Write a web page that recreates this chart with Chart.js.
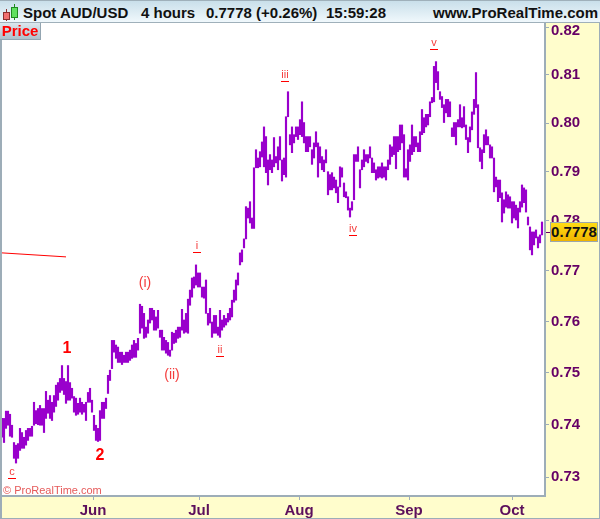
<!DOCTYPE html>
<html>
<head>
<meta charset="utf-8">
<title>Spot AUD/USD</title>
<script src="https://cdn.jsdelivr.net/npm/chart.js@4/dist/chart.umd.min.js"></script>
<style>
  html, body { margin: 0; padding: 0; background: #fff; }
  #wrap { position: relative; width: 600px; height: 519px; overflow: hidden; font-family: "Liberation Sans", Arial, sans-serif; }
  canvas { position: absolute; left: 0; top: 0; }
  #head { position: absolute; left: 0; top: 0; width: 600px; height: 21px; border-top: 1px solid #9fb0ba; border-bottom: 1px solid #9fb0ba;
    background: linear-gradient(#c9dfea, #f0f8fc); }
  #head span { position: absolute; top: 3px; font-weight: bold; font-size: 15px; line-height: 17px; color: #111; white-space: nowrap; }
  .candle { position: absolute; border: 1px solid; }
  .wick { position: absolute; width: 1px; }
  #price { position: absolute; left: 0; top: 23px; width: 40px; height: 16px; background: linear-gradient(#dbe7ee, #aebfca); border-right: 1px solid #93a5b1; border-bottom: 1px solid #93a5b1;
    color: #f00; font-weight: bold; font-size: 15px; line-height: 16px; text-align: center; }
  #copy { position: absolute; left: 3px; top: 483px; font-size: 11px; line-height: 14px; color: #e65a5a; white-space: nowrap; }
  #last { position: absolute; left: 550px; top: 222px; width: 46px; height: 18px; border: 1px solid #9aa6ae; background: linear-gradient(#ffdc14, #efb400);
    font-weight: bold; font-size: 15px; line-height: 18px; text-align: center; color: #111; }
  #lastTick { position: absolute; left: 546px; top: 232px; width: 4px; height: 1px; background: #660066; }
</style>
</head>
<body>
<div id="wrap">
  <canvas id="chart" width="600" height="519"></canvas>
  <div id="head">
    <div class="wick" style="left:6px;top:8px;height:12px;background:#8a3030"></div>
    <div class="candle" style="left:3px;top:11px;width:5px;height:6px;background:#f07070;border-color:#8a3030"></div>
    <div class="wick" style="left:14px;top:3px;height:16px;background:#1f8a1f"></div>
    <div class="candle" style="left:11px;top:6px;width:5px;height:9px;background:#60e060;border-color:#1f8a1f"></div>
    <span style="left:23px">Spot AUD/USD</span>
    <span style="left:141px">4 hours</span>
    <span style="left:206px">0.7778 (+0.26%)</span>
    <span style="left:326px">15:59:28</span>
    <span style="left:433px">www.ProRealTime.com</span>
  </div>
  <div id="price">Price</div>
  <div id="copy">© ProRealTime.com</div>
  <div id="lastTick"></div>
  <div id="last">0.7778</div>
</div>
<script>
const highs = [
  .7412,.7412,.7426,.7426,.7420,.7399,.7366,.7361,.7364,.7393,.7385,.7376,.7389,.7393,.7393,.7397,
  .7443,.7427,.7431,.7437,.7431,.7431,.7464,.7447,.7456,.7443,.7456,.7476,.7481,.7489,.7514,.7489,
  .7483,.7514,.7481,.7470,.7454,.7451,.7441,.7451,.7443,.7439,.7443,.7462,.7470,.7447,.7418,.7399,
  .7393,.7427,.7443,.7443,.7451,.7495,.7505,.7563,.7563,.7554,.7550,.7540,.7540,.7534,.7540,.7540,
  .7544,.7554,.7563,.7557,.7567,.7634,.7630,.7616,.7589,.7603,.7626,.7626,.7622,.7609,.7622,.7583,
  .7583,.7569,.7563,.7559,.7544,.7579,.7577,.7583,.7589,.7589,.7624,.7603,.7616,.7644,.7662,.7686,
  .7688,.7712,.7696,.7696,.7668,.7668,.7682,.7616,.7626,.7599,.7612,.7612,.7589,.7622,.7603,.7612,
  .7606,.7616,.7626,.7642,.7662,.7682,.7696,.7736,.7742,.7764,.7829,.7826,.7839,.7806,.7908,.7945,
  .7928,.7941,.7961,.7992,.7972,.7924,.7935,.7924,.7970,.7931,.7951,.7972,.7924,.7928,.8013,.8065,
  .7976,.7992,.7976,.7992,.7992,.8007,.8044,.8001,.7972,.7972,.7972,.7945,.7959,.7982,.7959,.7951,
  .7931,.7924,.7945,.7900,.7894,.7898,.7889,.7883,.7869,.7910,.7908,.7877,.7859,.7849,.7826,.7839,
  .7935,.7935,.7951,.7904,.7924,.7945,.7935,.7935,.7951,.7928,.7918,.7904,.7910,.7910,.7918,.7910,
  .7910,.7924,.7955,.7951,.7972,.7972,.7972,.7996,.7996,.7976,.7906,.7945,.7955,.7996,.7972,.7972,
  .7959,.7982,.8028,.8011,.8018,.8018,.8044,.8053,.8118,.8128,.8107,.8065,.8055,.8038,.8049,.8049,
  .8044,.7990,.8001,.8001,.8007,.8038,.8011,.8034,.7996,.7970,.7992,.8023,.8049,.8105,.8038,.7949,
  .7945,.7976,.7986,.7972,.7955,.7951,.7928,.7889,.7883,.7883,.7857,.7843,.7859,.7853,.7849,.7839,
  .7839,.7832,.7826,.7839,.7873,.7867,.7863,.7808,.7788,.7778,.7778,.7782,.7768,.7772,.7798
];
const lows = [
  .7376,.7366,.7393,.7399,.7378,.7376,.7336,.7327,.7336,.7351,.7355,.7355,.7361,.7370,.7378,.7378,
  .7399,.7402,.7400,.7399,.7399,.7385,.7412,.7422,.7412,.7408,.7424,.7435,.7447,.7462,.7466,.7458,
  .7441,.7447,.7447,.7451,.7424,.7418,.7420,.7424,.7420,.7424,.7408,.7443,.7443,.7424,.7389,.7370,
  .7368,.7370,.7412,.7412,.7431,.7460,.7485,.7508,.7540,.7528,.7520,.7520,.7516,.7520,.7520,.7520,
  .7524,.7528,.7530,.7530,.7544,.7577,.7587,.7567,.7569,.7577,.7597,.7603,.7583,.7583,.7587,.7569,
  .7544,.7544,.7538,.7534,.7532,.7544,.7557,.7559,.7567,.7569,.7583,.7577,.7579,.7577,.7632,.7648,
  .7666,.7672,.7668,.7668,.7648,.7646,.7616,.7593,.7597,.7569,.7577,.7577,.7573,.7569,.7583,.7589,
  .7593,.7599,.7603,.7609,.7638,.7642,.7672,.7712,.7718,.7746,.7764,.7806,.7796,.7785,.7785,.7908,
  .7908,.7910,.7930,.7910,.7898,.7873,.7904,.7898,.7910,.7918,.7904,.7924,.7881,.7894,.7889,.8013,
  .7955,.7939,.7959,.7972,.7966,.7976,.7972,.7959,.7941,.7941,.7951,.7915,.7928,.7951,.7889,.7918,
  .7904,.7900,.7918,.7853,.7863,.7863,.7867,.7857,.7837,.7869,.7889,.7849,.7847,.7822,.7808,.7822,
  .7843,.7921,.7921,.7867,.7904,.7910,.7921,.7918,.7928,.7898,.7898,.7883,.7887,.7889,.7887,.7889,
  .7883,.7904,.7915,.7931,.7935,.7906,.7941,.7945,.7959,.7889,.7889,.7883,.7921,.7935,.7941,.7951,
  .7941,.7941,.7976,.7980,.7992,.7996,.8013,.8042,.8044,.8084,.8069,.8049,.8032,.8001,.8021,.8013,
  .8013,.7972,.7972,.7955,.7992,.7992,.7990,.7992,.7966,.7939,.7961,.7986,.8018,.8032,.7949,.7921,
  .7906,.7939,.7955,.7955,.7928,.7928,.7859,.7869,.7839,.7847,.7798,.7816,.7828,.7826,.7826,.7796,
  .7806,.7802,.7786,.7818,.7828,.7837,.7818,.7792,.7742,.7732,.7752,.7766,.7746,.7756,.7772
];
const priceTicks = [0.82, 0.81, 0.80, 0.79, 0.78, 0.77, 0.76, 0.75, 0.74, 0.73];
const monthLabels = ["Jun", "Jul", "Aug", "Sep", "Oct"];
const monthIndex = [45.5, 98.5, 148.5, 203.5, 255];
const waveLabels = ["c", "1", "2", "(i)", "(ii)", "i", "ii", "iii", "iv", "v"];
const waveIndex = [5, 32.5, 49, 71.5, 85, 97.5, 109, 141.5, 175.5, 216];
const wavePrice = [.7311, .7547, .7341, .7676, .7495, .7750, .7544, .8099, .7784, .8168];
const trendIndex = [0, 32];
const trendPrice = [.7736, .7728];

const panelColor = "#FFFDCC";
const frameColor = "#9dadb8";

const panels = {
  id: "panels",
  beforeDraw(chart) {
    const { ctx, chartArea: a, width, height } = chart;
    ctx.save();
    ctx.fillStyle = panelColor;
    ctx.fillRect(a.right, a.top, width - a.right, height - a.top);
    ctx.fillRect(0, a.bottom, width, height - a.bottom);
    ctx.fillStyle = frameColor;
    ctx.fillRect(0, a.top, 2, height - a.top);
    ctx.fillRect(0, height - 1, width, 1);
    ctx.fillRect(width - 1, a.top, 1, height - a.top);
    ctx.restore();
  },
};

const waves = {
  id: "waves",
  afterDatasetsDraw(chart) {
    const { ctx, scales } = chart;
    ctx.save();
    ctx.textAlign = "center";
    ctx.textBaseline = "middle";
    waveLabels.forEach((t, i) => {
      const x = scales.x.getPixelForValue(waveIndex[i]);
      const y = scales.y.getPixelForValue(wavePrice[i]);
      const digit = /\d/.test(t);
      const paren = t[0] === "(";
      ctx.fillStyle = digit ? "#f00" : "#f43c3c";
      ctx.font = digit ? 'bold 16px "Liberation Sans"' : paren ? '14px "Liberation Sans"' : '11px "Liberation Sans"';
      ctx.fillText(t, x, y);
      if (!digit && !paren) {
        ctx.fillStyle = "#f00";
        ctx.fillRect(Math.round(x - 4), Math.round(y + 6), 8, 1);
      }
    });
    ctx.restore();
  },
};

new Chart(document.getElementById("chart"), {
  data: {
    datasets: [
      {
        type: "bar",
        data: highs.map((h, i) => ({ x: i, y: [lows[i], h] })),
        backgroundColor: "#9900cc",
        borderWidth: 0,
        barThickness: 1.5,
      },
      {
        type: "line",
        data: trendIndex.map((x, i) => ({ x, y: trendPrice[i] })),
        borderColor: "#f00",
        borderWidth: 1,
        pointRadius: 0,
      },
    ],
  },
  options: {
    responsive: false,
    animation: false,
    layout: { padding: { left: 2, top: 23, right: 0, bottom: 0 } },
    plugins: { legend: { display: false }, tooltip: { enabled: false } },
    scales: {
      x: {
        type: "linear",
        offset: false,
        min: 0,
        max: 271.5,
        afterBuildTicks: (s) => { s.ticks = monthIndex.map((value) => ({ value })); },
        afterFit: (s) => { s.height = 23; },
        border: { color: frameColor, width: 2 },
        grid: { offset: false, drawOnChartArea: false, color: frameColor, tickLength: 4 },
        ticks: {
          autoSkip: false,
          maxRotation: 0,
          padding: 2,
          color: "#5c0f5c",
          font: { family: "Liberation Sans", size: 15, weight: "bold" },
          callback: (v) => monthLabels[monthIndex.indexOf(v)],
        },
      },
      y: {
        type: "logarithmic",
        position: "right",
        min: 0.72649,
        max: 0.82095,
        afterBuildTicks: (s) => { s.ticks = priceTicks.map((value) => ({ value })); },
        afterFit: (s) => { s.width = 55; },
        border: { color: frameColor, width: 2 },
        grid: { drawOnChartArea: false, color: frameColor, tickLength: 4 },
        ticks: {
          autoSkip: false,
          padding: 2,
          color: "#660066",
          // top label sits a little under its tick in the original
          font: (c) => ({ family: "Liberation Sans", size: 15, weight: "bold", lineHeight: c.index === 0 ? 0.4 : 1.2 }),
          callback: (v, i) => (i === 0 ? ["", v.toFixed(2)] : v.toFixed(2)),
        },
      },
    },
  },
  plugins: [panels, waves],
});
</script>
</body>
</html>
